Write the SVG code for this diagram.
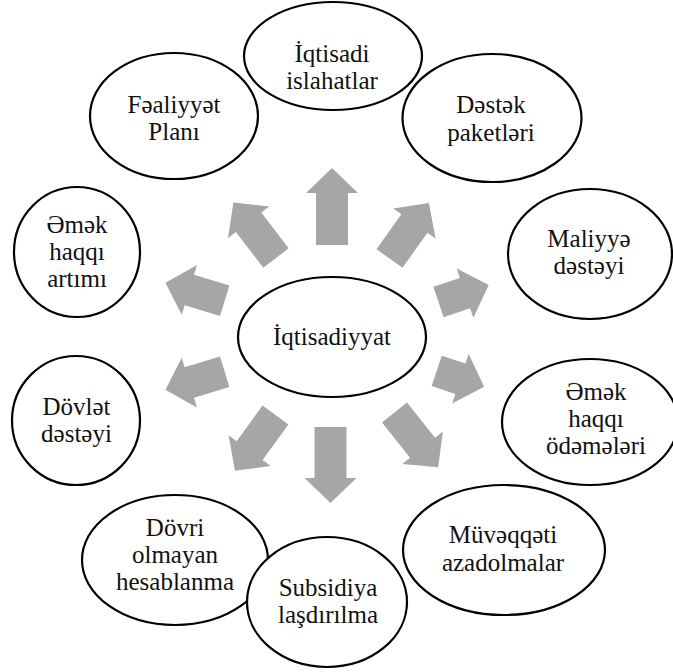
<svg xmlns="http://www.w3.org/2000/svg" width="673" height="672" viewBox="0 0 673 672">
<style>
.node ellipse{fill:#fff;stroke:#000;stroke-width:2.2}
.node text{font-family:'Liberation Serif','Times New Roman',serif;font-size:25px;fill:#111;text-anchor:middle}
.arr path{fill:#a6a6a6}
</style>
<rect width="673" height="672" fill="#fff"/>
<g id="connectors" class="arr">
<path transform="translate(332,245) rotate(-90)" d="M0,-16H52V-26L77,0L52,26V16H0Z"/>
<path transform="translate(389.5,258.5) rotate(-54.6)" d="M0,-16H43V-26L68,0L43,26V16H0Z"/>
<path transform="translate(276,258) rotate(-127.5)" d="M0,-16H45V-26L70,0L45,26V16H0Z"/>
<path transform="translate(438.5,302) rotate(-18.6)" d="M0,-16H28V-26L53,0L28,26V16H0Z"/>
<path transform="translate(224.7,300.8) rotate(-163)" d="M0,-16H37V-26L62,0L37,26V16H0Z"/>
<path transform="translate(224.7,371.7) rotate(163)" d="M0,-16H37V-26L62,0L37,26V16H0Z"/>
<path transform="translate(436.7,370.8) rotate(18.5)" d="M0,-16H25V-26L50,0L25,26V16H0Z"/>
<path transform="translate(275.5,415) rotate(126)" d="M0,-16H44V-26L69,0L44,26V16H0Z"/>
<path transform="translate(330.5,427) rotate(90)" d="M0,-16H51V-26L76,0L51,26V16H0Z"/>
<path transform="translate(394.5,412.5) rotate(51.4)" d="M0,-16H45V-26L70,0L45,26V16H0Z"/>
</g>
<g id="n-center" class="node"><ellipse cx="332" cy="337" rx="94" ry="60"/><text x="332" y="345">İqtisadiyyat</text></g>
<g id="n-faaliyyet" class="node"><ellipse cx="174" cy="116" rx="84" ry="63"/><text x="174" y="113">Fəaliyyət</text><text x="174" y="140">Planı</text></g>
<g id="n-destek" class="node"><ellipse cx="492" cy="118" rx="89.5" ry="64"/><text x="491" y="113">Dəstək</text><text x="491" y="141">paketləri</text></g>
<g id="n-iqtisadi" class="node"><ellipse cx="333" cy="56" rx="89" ry="54"/><text x="332" y="62">İqtisadi</text><text x="332" y="89">islahatlar</text></g>
<g id="n-maliyye" class="node"><ellipse cx="590" cy="254" rx="82" ry="65"/><text x="589" y="247">Maliyyə</text><text x="589" y="274">dəstəyi</text></g>
<g id="n-artim" class="node"><ellipse cx="77" cy="252" rx="63" ry="65"/><text x="77" y="233">Əmək</text><text x="77" y="260">haqqı</text><text x="77" y="287">artımı</text></g>
<g id="n-dovlet" class="node"><ellipse cx="76" cy="420.5" rx="64" ry="64.5"/><text x="76.5" y="415">Dövlət</text><text x="76.5" y="442">dəstəyi</text></g>
<g id="n-odeme" class="node"><ellipse cx="590" cy="422" rx="88" ry="63"/><text x="596" y="400">Əmək</text><text x="596" y="427">haqqı</text><text x="596" y="454">ödəmələri</text></g>
<g id="n-dovri" class="node"><ellipse cx="175" cy="560" rx="93" ry="65"/><text x="175" y="536">Dövri</text><text x="175" y="563">olmayan</text><text x="175" y="590">hesablanma</text></g>
<g id="n-subsidiya" class="node"><ellipse cx="327" cy="602" rx="80" ry="65"/><text x="328" y="596">Subsidiya</text><text x="328" y="623">laşdırılma</text></g>
<g id="n-muveqqeti" class="node"><ellipse cx="504" cy="550" rx="101" ry="65"/><text x="503" y="543">Müvəqqəti</text><text x="503" y="571">azadolmalar</text></g>
</svg>
